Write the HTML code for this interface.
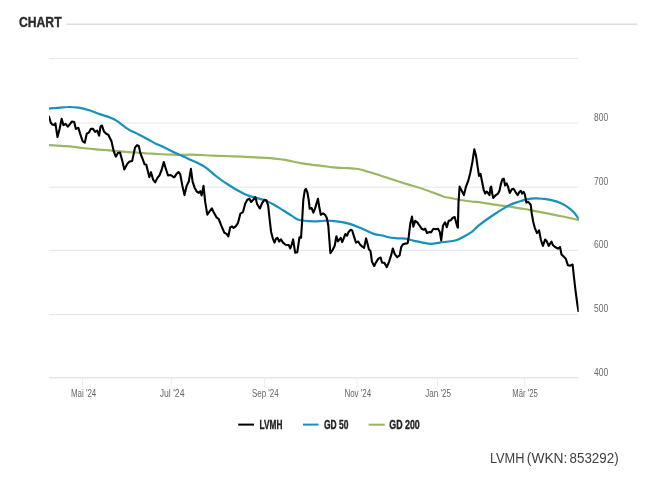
<!DOCTYPE html>
<html lang="de"><head><meta charset="utf-8"><title>Chart</title>
<style>
html,body{margin:0;padding:0;background:#fff}
body{width:656px;height:497px;overflow:hidden;position:relative;font-family:"Liberation Sans",sans-serif}
svg{position:absolute;left:0;top:0;display:block}
text{font-family:"Liberation Sans",sans-serif}
.ax text{font-size:11.4px;fill:#676767}
.lg text{font-size:12.6px;font-weight:bold;fill:#222;stroke:#222;stroke-width:0.35px}
</style></head><body>
<svg width="656" height="497" viewBox="0 0 656 497">
<rect width="656" height="497" fill="#fff"/>
<text x="19" y="27.3" font-size="14.2" font-weight="bold" fill="#2b2b2b" stroke="#2b2b2b" stroke-width="0.35" textLength="42.6" lengthAdjust="spacingAndGlyphs">CHART</text>
<path d="M66.5 24.2 H637.3" stroke="#dedede" stroke-width="1.6"/>
<g><path d="M49 58.6 H578.5" stroke="#e6e6e6" stroke-width="1"/><path d="M49 123.0 H578.5" stroke="#e6e6e6" stroke-width="1"/><path d="M49 187.2 H578.5" stroke="#e6e6e6" stroke-width="1"/><path d="M49 250.4 H578.5" stroke="#e6e6e6" stroke-width="1"/><path d="M49 314.5 H578.5" stroke="#e6e6e6" stroke-width="1"/><path d="M49 377.8 H578.5" stroke="#e6e6e6" stroke-width="1.4"/><path d="M82.5 377.7 V386.8" stroke="#eeeeee" stroke-width="1"/><path d="M171.3 377.7 V386.8" stroke="#eeeeee" stroke-width="1"/><path d="M264.6 377.7 V386.8" stroke="#eeeeee" stroke-width="1"/><path d="M357.0 377.7 V386.8" stroke="#eeeeee" stroke-width="1"/><path d="M437.4 377.7 V386.8" stroke="#eeeeee" stroke-width="1"/><path d="M524.7 377.7 V386.8" stroke="#eeeeee" stroke-width="1"/></g>
<g class="ax"><text x="83.6" y="397" text-anchor="middle" textLength="25.4" lengthAdjust="spacingAndGlyphs">Mai '24</text><text x="172.1" y="397" text-anchor="middle" textLength="24.8" lengthAdjust="spacingAndGlyphs">Jul '24</text><text x="265.3" y="397" text-anchor="middle" textLength="26.8" lengthAdjust="spacingAndGlyphs">Sep '24</text><text x="357.8" y="397" text-anchor="middle" textLength="26.8" lengthAdjust="spacingAndGlyphs">Nov '24</text><text x="438.1" y="397" text-anchor="middle" textLength="25.8" lengthAdjust="spacingAndGlyphs">Jan '25</text><text x="525.0" y="397" text-anchor="middle" textLength="25.5" lengthAdjust="spacingAndGlyphs">Mär '25</text><text x="594" y="120.7" textLength="14.1" lengthAdjust="spacingAndGlyphs">800</text><text x="594" y="184.8" textLength="14.1" lengthAdjust="spacingAndGlyphs">700</text><text x="594" y="248.0" textLength="14.1" lengthAdjust="spacingAndGlyphs">600</text><text x="594" y="312.2" textLength="14.1" lengthAdjust="spacingAndGlyphs">500</text><text x="594" y="375.5" textLength="14.1" lengthAdjust="spacingAndGlyphs">400</text></g>
<clipPath id="pc"><rect x="49" y="40" width="529.7" height="345"/></clipPath>
<g fill="none" stroke-linejoin="round" stroke-linecap="round" clip-path="url(#pc)">
<path d="M48.5 145.0 C50.7 145.1 57.4 145.6 61.3 145.9 C65.3 146.2 68.5 146.2 72.0 146.6 C75.6 146.9 79.1 147.6 82.7 148.0 C86.2 148.5 89.8 148.8 93.4 149.1 C96.9 149.4 100.5 149.7 104.0 150.0 C107.6 150.3 111.1 150.5 114.7 150.8 C118.3 151.1 121.8 151.6 125.4 151.9 C128.9 152.2 132.5 152.3 136.0 152.5 C139.6 152.8 143.2 153.1 146.7 153.4 C150.3 153.6 153.8 153.8 157.4 154.0 C160.9 154.2 164.2 154.3 168.0 154.5 C171.9 154.6 176.8 154.9 180.7 154.9 C184.6 155.0 186.0 154.6 191.3 154.7 C196.7 154.8 205.6 155.3 212.7 155.6 C219.8 155.9 226.9 156.1 234.0 156.4 C241.1 156.7 249.3 157.0 255.4 157.3 C261.4 157.6 265.7 157.7 270.3 158.1 C274.9 158.5 279.8 159.2 283.1 159.6 C286.4 160.1 287.1 160.4 290.0 160.9 C292.9 161.5 297.1 162.5 300.7 163.1 C304.2 163.7 307.8 164.1 311.3 164.6 C314.9 165.0 318.5 165.4 322.0 165.9 C325.6 166.3 329.1 167.0 332.7 167.3 C336.2 167.7 339.8 167.8 343.4 168.0 C346.9 168.2 351.2 168.4 354.0 168.6 C356.9 168.9 357.9 168.9 360.4 169.5 C362.9 170.1 365.8 171.1 369.0 172.0 C372.2 173.0 376.1 174.1 379.6 175.2 C383.2 176.3 386.7 177.5 390.3 178.7 C393.9 179.8 397.4 181.1 401.0 182.3 C404.5 183.4 408.1 184.4 411.6 185.5 C415.2 186.6 419.3 187.7 422.3 188.7 C425.4 189.7 426.4 190.1 430.0 191.5 C433.6 192.8 440.7 195.6 444.0 196.7 C447.4 197.7 447.2 197.3 450.0 197.9 C452.8 198.4 457.1 199.4 460.7 200.0 C464.2 200.6 467.8 201.1 471.3 201.5 C474.9 201.9 478.5 202.1 482.0 202.6 C485.6 203.0 489.1 203.7 492.7 204.3 C496.2 204.8 499.8 205.3 503.4 205.8 C506.9 206.3 510.5 206.7 514.0 207.3 C517.6 207.8 521.1 208.3 524.7 209.0 C528.3 209.6 531.8 210.4 535.4 211.1 C538.9 211.8 542.5 212.5 546.0 213.2 C549.6 213.9 553.2 214.7 556.7 215.4 C560.3 216.1 563.8 216.7 567.4 217.5 C571.0 218.3 576.6 219.6 578.5 220.1" stroke="#9bb761" stroke-width="2.2"/>
<path d="M48.5 108.7 C50.0 108.5 53.9 108.2 57.1 107.9 C60.3 107.6 64.2 107.0 67.7 107.0 C71.3 106.9 74.9 107.2 78.4 107.7 C82.0 108.3 85.5 109.2 89.1 110.3 C92.6 111.3 96.2 112.9 99.8 114.1 C103.3 115.4 107.6 116.6 110.4 117.7 C113.3 118.9 114.3 119.3 116.8 120.9 C119.3 122.5 122.9 125.6 125.4 127.3 C127.9 129.1 129.6 130.1 131.8 131.2 C133.9 132.3 135.7 132.9 138.2 134.2 C140.7 135.4 143.9 137.1 146.7 138.7 C149.6 140.2 152.4 141.9 155.2 143.4 C158.1 144.8 160.9 145.8 163.8 147.2 C166.6 148.5 169.1 150.0 172.3 151.5 C175.5 153.0 179.7 154.8 182.8 156.2 C185.9 157.6 187.3 158.3 190.9 160.0 C194.5 161.7 200.1 163.9 204.4 166.7 C208.6 169.4 212.5 173.4 216.5 176.5 C220.6 179.6 224.6 182.4 228.7 185.0 C232.8 187.7 237.7 190.5 241.1 192.3 C244.4 194.1 246.6 195.0 249.0 195.9 C251.3 196.8 252.5 196.8 255.4 197.6 C258.3 198.5 263.1 199.7 266.4 200.9 C269.7 202.2 272.1 203.6 274.9 205.2 C277.8 206.8 280.6 208.8 283.5 210.5 C286.3 212.3 289.5 214.4 292.0 215.9 C294.5 217.4 294.9 218.8 298.4 219.7 C302.0 220.7 309.4 221.2 313.4 221.4 C317.3 221.6 319.4 221.1 321.9 221.0 C324.4 220.9 325.2 220.4 328.3 220.6 C331.4 220.7 337.0 221.3 340.7 221.9 C344.4 222.4 346.8 222.9 350.5 224.1 C354.2 225.3 358.8 227.4 362.7 229.0 C366.5 230.6 370.3 232.8 373.8 233.9 C377.2 235.0 380.9 235.2 383.4 235.7 C385.8 236.3 386.2 236.8 388.5 237.2 C390.8 237.7 394.2 238.0 397.1 238.3 C399.9 238.5 402.8 238.3 405.6 238.7 C408.5 239.1 411.3 240.2 414.1 240.9 C417.0 241.5 419.8 242.1 422.7 242.6 C425.5 243.1 428.4 243.8 431.2 243.8 C434.1 243.8 436.9 243.0 439.8 242.6 C442.6 242.2 445.4 241.9 448.3 241.5 C451.1 241.1 454.0 241.0 456.8 240.0 C459.7 239.0 462.9 237.1 465.4 235.7 C467.9 234.4 469.6 233.5 471.8 231.9 C473.9 230.3 475.7 228.0 478.2 225.9 C480.7 223.9 483.9 221.5 486.7 219.5 C489.6 217.5 492.4 215.6 495.2 213.8 C498.1 211.9 501.3 209.9 503.8 208.4 C506.3 206.9 508.0 205.8 510.2 204.8 C512.3 203.8 513.8 203.3 516.6 202.4 C519.4 201.5 523.7 200.1 526.8 199.4 C530.0 198.7 532.5 198.4 535.4 198.3 C538.2 198.2 541.1 198.6 543.9 198.9 C546.7 199.3 549.6 199.7 552.4 200.4 C555.3 201.1 558.5 202.1 561.0 203.2 C563.5 204.3 565.2 205.3 567.4 206.8 C569.5 208.3 571.9 210.2 573.8 212.2 C575.6 214.1 577.7 217.5 578.5 218.6" stroke="#1691bc" stroke-width="2.2"/>
<path d="M48.5 116.5 L48.9 116.5 L49.4 117.8 L50.7 122.5 L52.4 124.6 L54.1 125.1 L55.4 123.4 L57.5 137.0 L59.7 128.5 L61.6 118.9 L63.5 125.1 L65.6 123.8 L67.8 126.6 L69.9 124.2 L72.0 121.5 L74.2 122.1 L75.9 128.9 L78.4 127.8 L80.1 133.6 L82.7 141.3 L84.8 142.6 L86.8 133.6 L89.1 132.3 L90.8 128.9 L93.0 128.9 L95.1 131.9 L97.2 130.6 L99.1 135.7 L100.6 126.4 L102.0 125.5 L104.0 131.6 L106.2 133.8 L108.3 134.8 L111.5 141.2 L113.6 150.8 L115.8 156.6 L117.9 153.0 L120.0 152.5 L122.2 160.4 L124.3 169.4 L127.5 163.6 L129.6 161.5 L132.2 160.9 L135.0 147.6 L137.1 145.1 L138.8 145.9 L140.3 153.0 L142.4 158.3 L144.6 164.3 L146.3 164.7 L147.8 171.1 L149.3 177.1 L151.0 172.2 L153.1 179.6 L155.2 182.4 L157.4 177.9 L159.5 175.4 L161.6 170.0 L163.8 162.1 L165.9 169.0 L168.0 175.4 L170.2 174.9 L172.1 175.9 L173.4 177.1 L174.3 177.3 L176.4 174.1 L178.5 172.0 L180.2 174.1 L182.4 185.9 L184.5 195.1 L186.6 185.9 L188.8 181.6 L190.9 168.8 L192.6 181.6 L194.5 187.4 L196.7 191.6 L198.8 192.9 L200.3 191.2 L201.6 195.5 L203.5 185.9 L205.2 201.9 L207.3 214.7 L209.5 211.5 L211.8 208.3 L213.8 212.6 L216.5 217.3 L218.7 219.0 L221.2 225.4 L224.4 232.8 L226.6 233.9 L228.3 236.5 L230.2 227.5 L231.9 226.4 L233.6 227.9 L235.7 226.4 L237.9 223.2 L240.4 213.6 L243.0 212.1 L245.1 204.0 L247.3 199.8 L249.4 198.7 L251.1 201.9 L253.2 199.8 L255.4 197.2 L257.1 204.0 L259.6 208.3 L260.0 208.4 L262.1 203.1 L264.3 199.9 L266.4 200.3 L268.1 205.2 L269.6 219.1 L271.1 231.9 L272.8 238.3 L274.5 242.6 L276.0 238.7 L277.5 237.9 L279.2 241.5 L280.9 239.4 L283.0 242.6 L285.6 244.7 L288.8 245.1 L290.3 248.5 L292.0 243.6 L293.1 239.4 L294.1 245.8 L295.2 252.8 L297.3 252.2 L298.4 244.7 L299.5 237.2 L301.0 237.9 L302.0 223.4 L303.3 199.9 L304.8 190.3 L305.9 188.8 L307.4 192.4 L308.7 199.9 L309.7 208.8 L311.6 208.0 L313.4 212.7 L315.1 208.4 L316.6 203.1 L318.0 198.8 L319.3 207.3 L320.8 214.8 L323.0 213.3 L325.1 214.8 L326.8 218.0 L328.3 225.5 L329.4 240.4 L330.4 253.2 L332.6 250.0 L334.7 245.8 L336.4 236.2 L337.9 241.5 L339.4 239.4 L340.7 237.9 L342.2 242.1 L343.7 238.3 L345.4 234.0 L347.1 235.7 L348.6 231.9 L350.7 229.8 L352.2 230.4 L353.9 236.2 L356.0 242.6 L358.2 241.5 L359.9 244.3 L362.0 246.4 L364.1 247.9 L366.1 238.3 L367.8 244.7 L368.8 249.0 L370.5 251.1 L372.0 261.8 L374.2 266.0 L376.3 261.8 L378.4 258.6 L380.6 257.5 L382.1 262.8 L384.3 262.8 L386.8 267.1 L389.0 261.8 L391.1 255.4 L392.8 248.5 L394.9 254.3 L397.1 257.1 L399.6 255.4 L401.3 246.8 L403.0 244.3 L405.6 243.6 L407.7 243.2 L408.8 236.2 L410.3 223.4 L412.0 216.5 L413.3 226.6 L415.2 220.8 L417.3 222.3 L419.5 225.5 L421.6 228.7 L423.8 229.8 L425.2 228.7 L427.0 233.0 L429.5 231.9 L431.2 232.3 L433.4 228.7 L435.9 229.3 L438.0 228.7 L439.8 231.9 L441.2 240.4 L443.0 225.5 L445.1 222.3 L446.8 227.2 L448.7 220.8 L450.9 220.2 L452.6 218.0 L454.7 217.0 L456.4 223.4 L457.5 227.1 L457.9 227.6 L458.5 202.6 L459.6 186.6 L461.7 190.8 L463.9 195.1 L466.0 186.6 L468.1 181.2 L470.3 172.7 L472.4 162.0 L474.3 149.4 L476.0 155.6 L477.7 167.3 L479.0 175.9 L480.5 173.8 L482.0 181.2 L483.7 189.8 L485.2 193.6 L486.9 191.5 L488.4 193.6 L489.5 195.1 L490.5 187.6 L491.2 186.6 L492.3 194.0 L493.3 197.9 L495.2 195.7 L498.0 193.6 L499.5 190.8 L500.8 184.4 L502.3 179.5 L503.8 178.7 L505.1 185.5 L506.6 183.4 L508.0 186.6 L509.8 193.0 L511.9 189.3 L513.6 188.7 L515.7 192.3 L517.7 195.1 L519.4 191.9 L520.9 190.8 L522.1 193.6 L523.6 191.9 L524.7 194.0 L526.4 202.6 L528.5 202.1 L530.7 204.7 L531.7 213.2 L533.2 221.8 L534.8 227.8 L537.0 233.1 L539.1 230.4 L540.8 239.5 L542.9 245.9 L545.1 239.5 L546.6 241.0 L548.7 245.9 L551.5 241.7 L553.0 245.3 L555.1 247.0 L557.9 248.7 L560.0 247.0 L561.5 254.5 L563.6 256.6 L565.8 258.8 L567.9 265.2 L570.0 265.8 L572.6 264.5 L573.7 274.8 L575.4 289.7 L577.1 302.5 L578.4 311.0" stroke="#000" stroke-width="2.1"/>
</g>
<g class="lg">
<path d="M238.2 424.6 H254" stroke="#000" stroke-width="2"/>
<text x="259.6" y="428.8" textLength="22.8" lengthAdjust="spacingAndGlyphs">LVMH</text>
<path d="M303 424.6 H318.6" stroke="#1691bc" stroke-width="2"/>
<text x="324" y="428.8" textLength="24.5" lengthAdjust="spacingAndGlyphs">GD 50</text>
<path d="M368.6 424.7 H384.7" stroke="#9bb761" stroke-width="2"/>
<text x="389.3" y="428.8" textLength="30.5" lengthAdjust="spacingAndGlyphs">GD 200</text>
</g>
<text y="463.3" font-size="14" fill="#3f3f3f"><tspan x="489.9" textLength="34.6" lengthAdjust="spacingAndGlyphs">LVMH</tspan> <tspan x="526.8" textLength="40.6" lengthAdjust="spacingAndGlyphs">(WKN:</tspan> <tspan x="569.5" textLength="49.1" lengthAdjust="spacingAndGlyphs">853292)</tspan></text>
</svg>
</body></html>
